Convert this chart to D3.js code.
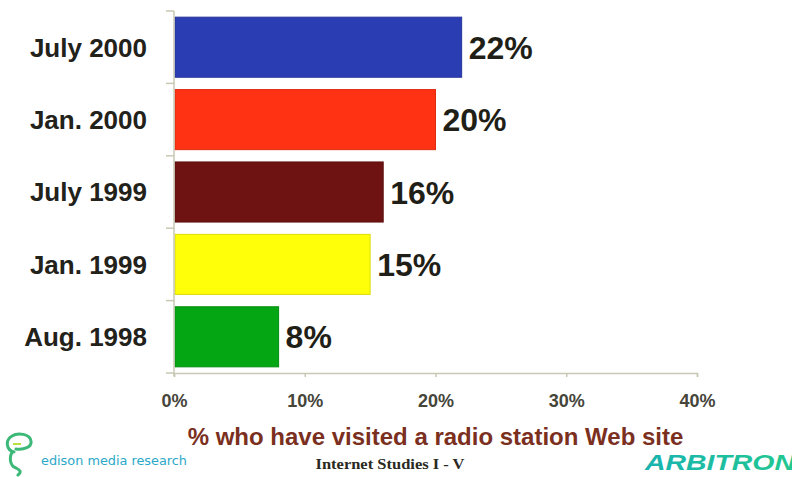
<!DOCTYPE html>
<html>
<head>
<meta charset="utf-8">
<script src="https://cdn.jsdelivr.net/npm/d3@7"></script>
<style>
  html, body { margin: 0; padding: 0; background: #ffffff; }
  svg { display: block; }
</style>
</head>
<body>
<svg id="chart" width="792" height="477"></svg>
<script>
// ---- data ----
const categories = ["July 2000", "Jan. 2000", "July 1999", "Jan. 1999", "Aug. 1998"];
const values = [22, 20, 16, 15, 8];
const barColors = ["#2b3db3", "#ff3314", "#6e1212", "#ffff0a", "#04a614"];
const tickValues = [0, 10, 20, 30, 40];
const titleText = "% who have visited a radio station Web site";
const footerText = "Internet Studies I - V";
const leftBrand = "edison media research";
const rightBrand = "ARBITRON";

const svg = d3.select("#chart");

const x = d3.scaleLinear().domain([0, 40]).range([174, 697]);
const y = d3.scaleBand().domain(categories).range([11, 373])
  .paddingInner(0.17).paddingOuter(0.085);

const axisColor = "#c9c8b4";

// bars
svg.selectAll("rect.bar").data(categories).join("rect")
  .attr("class", "bar")
  .attr("x", x(0) + 1)
  .attr("y", d => y(d))
  .attr("width", (d, i) => x(values[i]) - x(0) - 1)
  .attr("height", y.bandwidth())
  .attr("fill", (d, i) => barColors[i])
  .attr("stroke", (d, i) => d3.color(barColors[i]).darker(0.4))
  .attr("stroke-width", 1);

// y axis line + ticks at band boundaries
const step = y.step();
const boundaries = categories.map(c => y(c) - step * y.paddingInner() / 2);
boundaries.push(y(categories[categories.length - 1]) + y.bandwidth() + step * y.paddingInner() / 2);
const yAxisG = svg.append("g");
yAxisG.append("line")
  .attr("x1", x(0)).attr("x2", x(0))
  .attr("y1", boundaries[0]).attr("y2", boundaries[boundaries.length - 1] + 3)
  .attr("stroke", axisColor).attr("stroke-width", 1.5);
yAxisG.selectAll("line.tick").data(boundaries).join("line")
  .attr("class", "tick")
  .attr("x1", x(0) - 8).attr("x2", x(0))
  .attr("y1", d => d).attr("y2", d => d)
  .attr("stroke", axisColor).attr("stroke-width", 1.5);

// x axis
const xAxis = d3.axisBottom(x).tickValues(tickValues).tickSize(4).tickPadding(17)
  .tickFormat(d => d + "%");
const xg = svg.append("g").attr("transform", `translate(0,${boundaries[boundaries.length - 1]})`).call(xAxis);
xg.select(".domain").attr("stroke", axisColor).attr("stroke-width", 1.5);
xg.selectAll(".tick line").attr("stroke", axisColor).attr("stroke-width", 1.5);
xg.selectAll(".tick text")
  .attr("fill", "#45453a")
  .attr("font-family", "Liberation Sans, Arial, sans-serif")
  .attr("font-weight", "bold")
  .attr("font-size", 18);

// category labels
svg.selectAll("text.cat").data(categories).join("text")
  .attr("class", "cat")
  .attr("x", 147)
  .attr("y", d => y(d) + y.bandwidth() / 2)
  .attr("dy", "0.36em")
  .attr("text-anchor", "end")
  .attr("font-family", "Liberation Sans, Arial, sans-serif")
  .attr("font-weight", "bold")
  .attr("font-size", 26)
  .attr("fill", "#22221a")
  .text(d => d);

// value labels
svg.selectAll("text.val").data(categories).join("text")
  .attr("class", "val")
  .attr("x", (d, i) => x(values[i]) + 7)
  .attr("y", d => y(d) + y.bandwidth() / 2)
  .attr("dy", "0.36em")
  .attr("font-family", "Liberation Sans, Arial, sans-serif")
  .attr("font-weight", "bold")
  .attr("font-size", 32)
  .attr("fill", "#1f1f18")
  .text((d, i) => values[i] + "%");

// title
svg.append("text")
  .attr("x", (x(0) + x(40)) / 2)
  .attr("y", 445)
  .attr("text-anchor", "middle")
  .attr("font-family", "Liberation Sans, Arial, sans-serif")
  .attr("font-weight", "bold")
  .attr("font-size", 24)
  .attr("fill", "#7b2f1e")
  .text(titleText);

// footer
svg.append("text")
  .attr("x", 390)
  .attr("y", 469)
  .attr("text-anchor", "middle")
  .attr("font-family", "Liberation Serif, Times New Roman, serif")
  .attr("font-weight", "bold")
  .attr("font-size", 15)
  .attr("textLength", 149)
  .attr("lengthAdjust", "spacingAndGlyphs")
  .attr("fill", "#2a2a22")
  .text(footerText);

// edison logo
const logo = svg.append("g");
logo.append("path")
  .attr("d", "M14,452 C6,450 5,440 12,436 C18,432 30,434 31,441 C32,447 24,450 16,449 M12,452 C9,458 10,466 16,468 C20,470 22,472 18,475")
  .attr("fill", "none").attr("stroke", "#3cb878").attr("stroke-width", 3).attr("stroke-linecap", "round");
logo.append("line").attr("x1", 13).attr("x2", 21).attr("y1", 444).attr("y2", 444)
  .attr("stroke", "#b8e040").attr("stroke-width", 2);
svg.append("text")
  .attr("x", 41).attr("y", 465)
  .attr("font-family", "DejaVu Sans, sans-serif")
  .attr("font-size", 12.5)
  .attr("textLength", 146)
  .attr("lengthAdjust", "spacingAndGlyphs")
  .attr("fill", "#2aa8c8")
  .text(leftBrand);

// Arbitron
const grad = svg.append("defs").append("linearGradient").attr("id", "arb")
  .attr("x1", "0").attr("x2", "1").attr("y1", "0").attr("y2", "0");
grad.append("stop").attr("offset", "0").attr("stop-color", "#18b3b0");
grad.append("stop").attr("offset", "1").attr("stop-color", "#22c890");
svg.append("text")
  .attr("x", 645).attr("y", 470)
  .attr("font-family", "Liberation Sans, Arial, sans-serif")
  .attr("font-weight", "bold")
  .attr("font-style", "italic")
  .attr("font-size", 22)
  .attr("textLength", 150)
  .attr("lengthAdjust", "spacingAndGlyphs")
  .attr("fill", "url(#arb)")
  .text(rightBrand);
</script>
</body>
</html>
